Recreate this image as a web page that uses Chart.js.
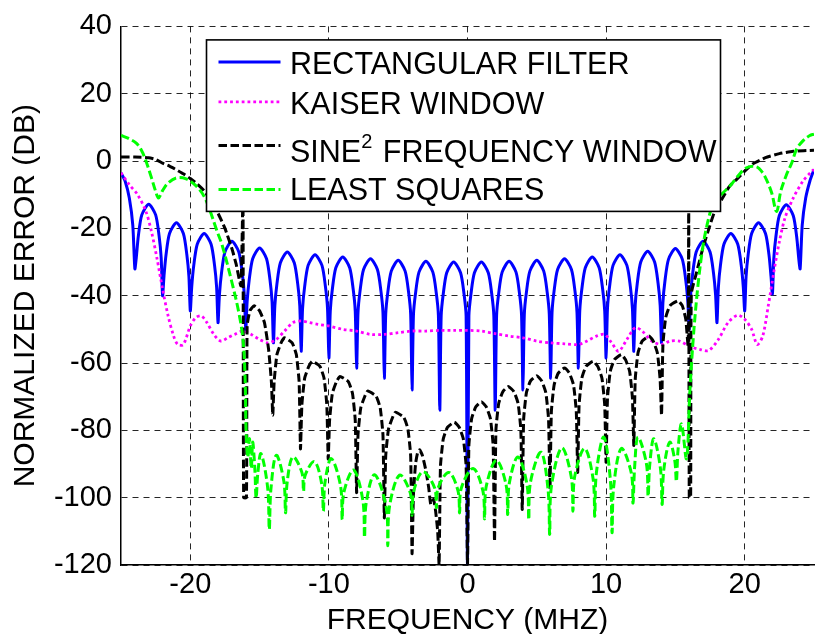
<!DOCTYPE html>
<html>
<head>
<meta charset="utf-8">
<script src="https://cdn.jsdelivr.net/npm/chart.js@4/dist/chart.umd.min.js"></script>
<style>
  html, body { margin: 0; padding: 0; background: #fff; }
  canvas { display: block; }
</style>
</head>
<body>
<canvas id="c" width="817" height="634"></canvas>
<script>
// Normalized error of four filter designs versus frequency (MHz, dB)

const seriesNames = ['RECTANGULAR FILTER', 'KAISER WINDOW', 'SINE\u00B2 FREQUENCY WINDOW', 'LEAST SQUARES'];
const xTickValues = [-20, -10, 0, 10, 20];
const yTickValues = [-120, -100, -80, -60, -40, -20, 0, 20, 40];

const rectFreq = [
  -25, -24.7, -24.4, -24.15,
  -24, -23.9, -23.75, -23.5, -23, -22.5, -22.25, -22.1,
  -22, -21.9, -21.75, -21.5, -21, -20.5, -20.25, -20.1,
  -20, -19.9, -19.75, -19.5, -19, -18.5, -18.25, -18.1,
  -18, -17.9, -17.75, -17.5, -17, -16.5, -16.25, -16.1,
  -16, -15.9, -15.75, -15.5, -15, -14.5, -14.25, -14.1,
  -14, -13.9, -13.75, -13.5, -13, -12.5, -12.25, -12.1,
  -12, -11.9, -11.75, -11.5, -11, -10.5, -10.25, -10.1,
  -10, -9.9, -9.75, -9.5, -9, -8.5, -8.25, -8.1,
  -8, -7.9, -7.75, -7.5, -7, -6.5, -6.25, -6.1,
  -6, -5.9, -5.75, -5.5, -5, -4.5, -4.25, -4.1,
  -4, -3.9, -3.75, -3.5, -3, -2.5, -2.25, -2.1,
  -2, -1.9, -1.75, -1.5, -1, -0.5, -0.25, -0.1,
  0, 0.1, 0.25, 0.5, 1, 1.5, 1.75, 1.9,
  2, 2.1, 2.25, 2.5, 3, 3.5, 3.75, 3.9,
  4, 4.1, 4.25, 4.5, 5, 5.5, 5.75, 5.9,
  6, 6.1, 6.25, 6.5, 7, 7.5, 7.75, 7.9,
  8, 8.1, 8.25, 8.5, 9, 9.5, 9.75, 9.9,
  10, 10.1, 10.25, 10.5, 11, 11.5, 11.75, 11.9,
  12, 12.1, 12.25, 12.5, 13, 13.5, 13.75, 13.9,
  14, 14.1, 14.25, 14.5, 15, 15.5, 15.75, 15.9,
  16, 16.1, 16.25, 16.5, 17, 17.5, 17.75, 17.9,
  18, 18.1, 18.25, 18.5, 19, 19.5, 19.75, 19.9,
  20, 20.1, 20.25, 20.5, 21, 21.5, 21.75, 21.9,
  22, 22.1, 22.25, 22.5, 23, 23.5, 23.75, 23.9,
  24, 24.15, 24.4, 24.7, 25
];
const rectErr = [
  -3.5, -6, -11, -19,
  -32, -28.8, -22.3, -16, -12.8, -16, -22.3, -28.8,
  -40, -34.3, -27.8, -21.5, -18.3, -21.5, -27.8, -34.3,
  -44.5, -37.5, -31, -24.7, -21.5, -24.7, -31, -37.5,
  -48, -39.8, -33.3, -27, -23.8, -27, -33.3, -39.8,
  -50, -41.8, -35.3, -29, -25.8, -29, -35.3, -41.8,
  -54, -43, -36.5, -30.2, -27, -30.2, -36.5, -43,
  -56.5, -43.8, -37.3, -31, -27.8, -31, -37.3, -43.8,
  -58.5, -44.5, -38, -31.7, -28.5, -31.7, -38, -44.5,
  -61.5, -45, -38.5, -32.2, -29, -32.2, -38.5, -45,
  -64.5, -45.5, -39, -32.7, -29.5, -32.7, -39, -45.5,
  -68, -45.8, -39.3, -33, -29.8, -33, -39.3, -45.8,
  -74, -46, -39.5, -33.2, -30, -33.2, -39.5, -46,
  -120, -46, -39.5, -33.2, -30, -33.2, -39.5, -46,
  -74, -45.8, -39.3, -33, -29.8, -33, -39.3, -45.8,
  -68, -45.5, -39, -32.7, -29.5, -32.7, -39, -45.5,
  -64.5, -45, -38.5, -32.2, -29, -32.2, -38.5, -45,
  -61.5, -44.5, -38, -31.7, -28.5, -31.7, -38, -44.5,
  -58.5, -43.8, -37.3, -31, -27.8, -31, -37.3, -43.8,
  -56.5, -42.8, -36.3, -30, -26.8, -30, -36.3, -42.8,
  -54, -42, -35.5, -29.2, -26, -29.2, -35.5, -42,
  -50, -39.8, -33.3, -27, -23.8, -27, -33.3, -39.8,
  -48, -37.5, -31, -24.7, -21.5, -24.7, -31, -37.5,
  -44.5, -34.3, -27.8, -21.5, -18.3, -21.5, -27.8, -34.3,
  -39.5, -29, -22.5, -16.2, -13, -16.2, -22.5, -29,
  -32, -19, -11, -6, -2.5
];

const kaiserFreq = [
  -25, -24.4, -23.8, -23.2, -22.8, -22.4, -22.0, -21.6, -21.2, -20.9,
  -20.5, -20.0, -19.6, -19.2, -18.8, -18.3, -17.8, -17.3, -16.8, -16.2,
  -15.6, -15.0, -14.4, -13.8, -13.2, -12.6, -12.0, -11.4, -10.8, -10.0,
  -9, -8, -7, -6, -5, -4, -3, -2, -1, 0,
  1, 2, 3, 4, 5, 6, 7, 8, 8.6, 9.3,
  9.9, 10.4, 10.9, 11.5, 12.1, 12.6, 13.3, 14.0, 14.6, 15.3,
  16.0, 16.8, 17.4, 18.1, 18.8, 19.5, 20.0, 20.5, 20.9, 21.3,
  21.7, 22.1, 22.5, 22.9, 23.5, 24.2, 24.8, 25
];
const kaiserErr = [
  -3.5, -7, -10, -15, -21, -29, -38, -46, -52, -54.5,
  -54.5, -49, -46.5, -46, -48, -51.5, -53.5, -52.5, -51.5, -50.5,
  -51.5, -53, -54, -53, -50.5, -48, -47.5, -48, -48.5, -49,
  -50, -50.5, -51.5, -51.5, -51, -50.5, -50.5, -50.3, -50.3, -50.3,
  -50.5, -51.3, -52, -52.5, -53.5, -54, -54.3, -54.5, -53.5, -52,
  -51.5, -54, -56.5, -53, -49.5, -50.5, -53.5, -54.5, -53.5, -53.5,
  -55, -56, -56.3, -53, -48, -45.8, -47, -50, -54.5, -52,
  -43, -33, -24, -17, -11, -6, -3.2, -2.5
];

const sineFreq = [
  -25, -24, -23, -22.5, -22, -21.5, -21, -20.5, -20, -19.5,
  -19, -18.5, -18, -17.5, -17, -16.7, -16.35,
  -16.2, -16.15, -15.95, -15.9,
  -15.7, -15.4, -15.0, -14.65, -14.35, -14.15,
  -14.05, -13.95, -13.75, -13.45, -13.2, -12.65, -12.35, -12.15,
  -12.05, -11.95, -11.75, -11.45, -11.2, -10.65, -10.35, -10.15,
  -10.05, -9.95, -9.75, -9.45, -9.2, -8.6, -8.3, -8.1,
  -8.0, -7.9, -7.7, -7.4, -7.2, -6.6, -6.3, -6.1,
  -6.0, -5.9, -5.7, -5.4, -5.2, -4.6, -4.3, -4.1,
  -4.0, -3.9, -3.75, -3.6, -3.45, -3.25, -3.0, -2.8, -2.65, -2.45, -2.3, -2.15,
  -2.05, -1.95, -1.75, -1.45, -0.95, -0.6, -0.3, -0.1,
  0, 0.1, 0.3, 0.6, 1.0, 1.35, 1.65, 1.85,
  1.95, 2.05, 2.25, 2.55, 2.95, 3.35, 3.65, 3.85,
  3.95, 4.05, 4.25, 4.55, 5.0, 5.35, 5.65, 5.85,
  5.95, 6.05, 6.25, 6.55, 7.0, 7.35, 7.65, 7.85,
  7.95, 8.05, 8.25, 8.55, 9.05, 9.4, 9.7, 9.9,
  10.0, 10.1, 10.3, 10.6, 11.1, 11.4, 11.7, 11.9,
  12.0, 12.1, 12.3, 12.6, 13.1, 13.4, 13.7, 13.9,
  14.0, 14.1, 14.3, 14.6, 15.2, 15.5, 15.75, 15.92,
  15.96, 16.0, 16.1, 16.15,
  16.5, 17.0, 17.5, 17.8, 18.4, 18.9, 19.4, 20.0, 20.6, 21.5, 22.5, 23.5, 25
];
const sineErr = [
  1.2, 1.2, 1.0, 0.5, -0.6, -1.5, -2.6, -3.8, -5.2, -6.8,
  -8.8, -11.8, -15.5, -20, -26, -30.5, -37,
  -10, -100, -100, -49,
  -44.5, -43, -44.5, -48, -56, -65.5,
  -75.5, -65.5, -57.5, -54, -52.5, -54, -57.5, -65.5,
  -85.5, -72.5, -64.5, -61, -59.5, -61, -64.5, -72.5,
  -88.5, -77, -69, -65.5, -64, -65.5, -69, -77,
  -98.5, -81.3, -73.3, -69.8, -68.3, -69.8, -73.3, -81.3,
  -106, -87.6, -79.6, -76.1, -74.6, -76.1, -79.6, -87.6,
  -116.6, -99, -90, -86.6, -85.8, -87.5, -92, -97, -102, -100.5, -104, -110,
  -120, -90.6, -82.6, -79.1, -77.6, -79.1, -82.6, -90.6,
  -120, -84.5, -76.5, -73, -71.5, -73, -76.5, -84.5,
  -113, -80, -72, -68.5, -67, -68.5, -72, -80,
  -103.5, -76.8, -68.8, -65.3, -63.8, -65.3, -68.8, -76.8,
  -97.5, -74.5, -66.5, -63, -61.5, -63, -66.5, -74.5,
  -92.5, -72.5, -64.5, -61, -59.5, -61, -64.5, -72.5,
  -89.5, -70.5, -62.5, -59, -57.5, -59, -62.5, -70.5,
  -84.5, -65, -57, -53.5, -52, -53.5, -57, -65,
  -75.5, -54.5, -46.5, -43, -41.5, -43, -47, -55,
  -10, -100, -100, -39.4,
  -33.5, -25.6, -19, -15.4, -11, -7.5, -5.5, -3, -0.8, 1.0, 2.2, 2.9, 3.2
];

const lsFreq = [
  -25, -24.5, -23.9, -23.5, -23.2, -22.8, -22.5, -22.3, -22.0, -21.6,
  -21.0, -20.3, -19.6, -19.0, -18.6, -18.1, -17.7, -17.0, -16.5, -16.2,
  -16.05, -15.97,
  -15.85, -15.73, -15.6, -15.5, -15.35, -15.25, -15.13, -14.9,
  -14.42, -14.3, -14.18, -13.8,
  -13.25, -13.13, -13.01, -12.6,
  -11.95, -11.83, -11.71, -11.04,
  -10.52, -10.4, -10.28, -9.83,
  -9.16, -9.04, -8.92, -8.22,
  -7.55, -7.43, -7.31, -6.71,
  -5.87, -5.75, -5.63, -4.9,
  -4.12, -4.0, -3.88, -3.22,
  -2.37, -2.25, -2.13, -1.35,
  -0.69, -0.57, -0.45, 0.4,
  1.11, 1.23, 1.35, 2.08,
  2.78, 2.9, 3.02, 3.64,
  4.3, 4.42, 4.54, 5.3,
  5.81, 5.93, 6.05, 6.8,
  7.49, 7.61, 7.73, 8.45,
  9.06, 9.18, 9.3, 9.83,
  10.31, 10.43, 10.55, 11.1,
  11.82, 11.94, 12.06, 12.3,
  12.91, 13.03, 13.15, 13.44,
  13.92, 14.04, 14.16, 14.59,
  14.95, 15.07, 15.19, 15.44,
  15.8, 16.04, 16.3, 16.64, 17.0, 17.4, 17.72, 18.3, 18.92, 19.5,
  20.13, 20.85, 21.3, 21.6, 21.95, 22.3, 22.6, 23.0, 23.4, 23.74,
  24.2, 24.7, 25
];
const lsErr = [
  7.6, 6.8, 5.3, 3, 0, -5, -9, -11, -8.8, -6.5,
  -5, -5.3, -7.3, -10.5, -14.5, -20.5, -25, -36, -45, -53,
  -64, -80.5,
  -88, -82.5, -91.3, -83.5, -91, -100.1, -92.8, -86.9,
  -97, -109.4, -97.3, -87.4,
  -95.1, -104.5, -95.4, -87.9,
  -92.5, -98.1, -93.3, -89.3,
  -95.9, -104, -95.4, -88.4,
  -96.5, -106.5, -98.4, -91.8,
  -100.8, -111.8, -101.6, -93.2,
  -102.7, -114.3, -102.7, -93.3,
  -98.7, -105.2, -98.1, -92.3,
  -97.1, -103, -97.2, -92.5,
  -97.9, -104.5, -97.2, -91.3,
  -98, -106.3, -96.7, -88.9,
  -96.1, -105, -95.6, -87.9,
  -96.3, -106.5, -95.5, -86.5,
  -97.5, -110.9, -96.8, -85.2,
  -93.9, -104, -93.8, -85.4,
  -94.4, -105.5, -92.6, -82,
  -94.8, -110.4, -96.6, -85.4,
  -92.7, -101.6, -90.8, -82,
  -89.9, -99.6, -90.2, -82.5,
  -91.3, -102, -91.8, -83.5,
  -88.8, -95.2, -85.8, -78.1,
  -88.4, -68.8, -52, -36.5, -25, -17, -13, -10, -7.5, -4.5,
  -2, -1.7, -3.5, -5.8, -9.5, -15, -9, -4.2, -0.5, 3.5,
  6, 7.6, 8
];

const FONT = '"Liberation Sans", Arial, Helvetica, sans-serif';

function toPoints(xs, ys) {
  return xs.map((x, i) => ({ x: x, y: ys[i] }));
}

const datasets = [
  { label: seriesNames[0], data: toPoints(rectFreq, rectErr), borderColor: '#0000ff',
    borderWidth: 3, borderDash: [], tension: 0.25, order: 4 },
  { label: seriesNames[1], data: toPoints(kaiserFreq, kaiserErr), borderColor: '#ff00ff',
    borderWidth: 2.8, borderDash: [2.8, 3], tension: 0.3, order: 3 },
  { label: seriesNames[2], data: toPoints(sineFreq, sineErr), borderColor: '#000000',
    borderWidth: 3, borderDash: [8.5, 3.5], tension: 0.15, order: 2 },
  { label: seriesNames[3], data: toPoints(lsFreq, lsErr), borderColor: '#00ff00',
    borderWidth: 3, borderDash: [8.5, 3.5], tension: 0.35, order: 1 }
];
datasets.forEach(d => { d.pointRadius = 0; d.fill = false; });

// boxed legend drawn inside the plot area, on top of the curves
const boxLegend = {
  id: 'boxLegend',
  afterDatasetsDraw(chart) {
    const { ctx, chartArea: ca } = chart;
    const left = ca.left + 85.5, top = ca.top + 13.5, w = 514, h = 171.5;
    ctx.save();
    ctx.fillStyle = '#ffffff';
    ctx.fillRect(left, top, w, h);
    ctx.strokeStyle = '#000000';
    ctx.lineWidth = 1.6;
    ctx.strokeRect(left, top, w, h);

    const lineY = [22, 62, 105.5, 149.5];
    const baseY = [33.7, 73.7, 122, 160.3];
    chart.data.datasets.forEach((ds, i) => {
      ctx.save();
      ctx.strokeStyle = ds.borderColor;
      ctx.lineWidth = ds.borderWidth;
      ctx.setLineDash(ds.borderDash || []);
      ctx.beginPath();
      ctx.moveTo(left + 12, top + lineY[i]);
      ctx.lineTo(left + 74, top + lineY[i]);
      ctx.stroke();
      ctx.restore();

      ctx.fillStyle = '#000000';
      ctx.textBaseline = 'alphabetic';
      ctx.textAlign = 'left';
      const tx = left + 83.5, ty = top + baseY[i];
      const label = ds.label;
      const sup = label.indexOf('\u00B2');
      if (sup >= 0) {
        const head = label.slice(0, sup), tail = label.slice(sup + 1);
        ctx.font = '30.5px ' + FONT;
        ctx.fillText(head, tx, ty);
        let x = tx + ctx.measureText(head).width;
        ctx.font = '20px ' + FONT;
        ctx.fillText('2', x, ty - 14);
        x += ctx.measureText('2').width;
        ctx.font = '30.5px ' + FONT;
        ctx.fillText(tail, x + 2, ty);
      } else {
        ctx.font = '30.5px ' + FONT;
        ctx.fillText(label, tx, ty);
      }
    });
    ctx.restore();
  }
};

const gridStyle = { color: 'rgba(0,0,0,0.85)', lineWidth: 1, drawTicks: false };

new Chart(document.getElementById('c'), {
  type: 'line',
  data: { datasets: datasets },
  options: {
    responsive: false,
    animation: false,
    devicePixelRatio: 1,
    layout: { padding: { top: 19, right: 3, left: 0, bottom: 0 } },
    plugins: { legend: { display: false }, tooltip: { enabled: false } },
    scales: {
      x: {
        type: 'linear', min: -25, max: 25,
        afterBuildTicks(scale) { scale.ticks = xTickValues.map(v => ({ value: v })); },
        ticks: { color: '#000', font: { family: FONT, size: 29 }, padding: 3, maxRotation: 0,
                 callback: v => String(v) },
        grid: gridStyle,
        border: { display: true, color: '#000', width: 1.5, dash: [6, 5] },
        title: { display: true, text: 'FREQUENCY (MHZ)', color: '#000',
                 font: { family: FONT, size: 30, lineHeight: 0.9 }, padding: { top: 0, bottom: 0 } },
        afterFit(scale) { scale.height = 69; }
      },
      y: {
        type: 'linear', min: -120, max: 40,
        afterBuildTicks(scale) { scale.ticks = yTickValues.map(v => ({ value: v })); },
        ticks: { color: '#000', font: { family: FONT, size: 29 }, padding: 9,
                 callback: v => String(v) },
        grid: gridStyle,
        border: { display: true, color: '#000', width: 1.5, dash: [6, 5] },
        title: { display: true, text: 'NORMALIZED ERROR (DB)', color: '#000',
                 font: { family: FONT, size: 30 }, padding: { top: 8, bottom: 0 } },
        afterFit(scale) { scale.width = 121; }
      }
    }
  },
  plugins: [boxLegend]
});
</script>
</body>
</html>
